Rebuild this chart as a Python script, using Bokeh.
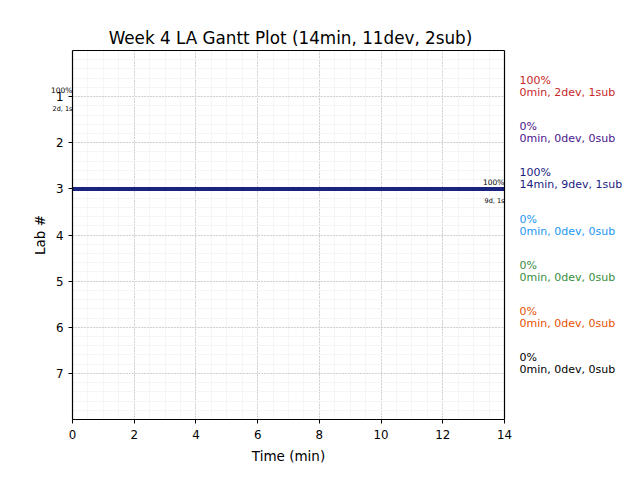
from bokeh.plotting import figure
from bokeh.models import Range1d, FixedTicker, Label, ColumnDataSource, LinearAxis
from bokeh.embed import file_html
from bokeh.resources import INLINE

# ---- data ----
labs = [1, 2, 3, 4, 5, 6, 7]
minutes = [0, 0, 14, 0, 0, 0, 0]
devs = [2, 0, 9, 0, 0, 0, 0]
subs = [1, 0, 1, 0, 0, 0, 0]
pcts = [100, 0, 100, 0, 0, 0, 0]
colors = ["#c62828", "#4a148c", "#1a237e", "#2196f3", "#388e3c", "#e65100", "#000000"]
title_text = "Week 4 LA Gantt Plot (14min, 11dev, 2sub)"
x_label = "Time (min)"
y_label = "Lab #"
x_ticks = [0, 2, 4, 6, 8, 10, 12, 14]
X_MAX = 14
Y_MAX = 8

FONT = "DejaVu Sans"

# layout (pixels): the plot box sits inside a frame that fills the canvas,
# so that the texts around the box are not clipped
W, H = 624, 464
BOX_L, BOX_R, BOX_T, BOX_B = 72, 504, 50, 419
xpx = (BOX_R - BOX_L) / X_MAX
ypx = (BOX_B - BOX_T) / Y_MAX
x_start, x_end = -BOX_L / xpx, X_MAX + (W - BOX_R) / xpx
y_top, y_bottom = -BOX_T / ypx, Y_MAX + (H - BOX_B) / ypx

p = figure(width=W, height=H, output_backend="svg", toolbar_location=None,
           x_range=Range1d(x_start, x_end), y_range=Range1d(y_bottom, y_top),
           min_border=0)

p.outline_line_color = None
p.background_fill_color = "white"
p.border_fill_color = "white"

x_minor = [i * 0.5 for i in range(29)]
y_minor = [round(i * 0.2, 1) for i in range(41)]
p.xaxis.ticker = FixedTicker(ticks=x_ticks, minor_ticks=x_minor)
p.yaxis.ticker = FixedTicker(ticks=labs, minor_ticks=y_minor)
p.xaxis.fixed_location = Y_MAX
p.xaxis.bounds = (0, X_MAX)
p.yaxis.fixed_location = 0
p.yaxis.bounds = (0, Y_MAX)

for ax in (p.xaxis[0], p.yaxis[0]):
    ax.major_label_text_font = FONT
    ax.major_label_text_font_size = "11.8px"
    ax.major_label_text_color = "black"
    ax.axis_label_text_font = FONT
    ax.axis_label_text_font_size = "13.5px"
    ax.axis_label_text_font_style = "normal"
    ax.axis_label_text_color = "black"
    ax.axis_line_color = "black"
    ax.axis_line_width = 1.2
    ax.major_tick_line_color = "black"
    ax.major_tick_out = 4
    ax.major_tick_in = 0
    ax.minor_tick_line_color = None
p.xaxis.major_label_standoff = 6
p.yaxis.major_label_standoff = 5

# top and right border of the plot box
top_ax = LinearAxis(fixed_location=0, bounds=(0, X_MAX), ticker=FixedTicker(ticks=[]),
                    axis_line_color="black", axis_line_width=1.2,
                    major_tick_line_color=None, minor_tick_line_color=None)
right_ax = LinearAxis(fixed_location=X_MAX, bounds=(0, Y_MAX), ticker=FixedTicker(ticks=[]),
                      axis_line_color="black", axis_line_width=1.2,
                      major_tick_line_color=None, minor_tick_line_color=None)
p.add_layout(top_ax, "above")
p.add_layout(right_ax, "right")

for g in (p.xgrid[0], p.ygrid[0]):
    g.grid_line_color = "#b0b0b0"
    g.grid_line_dash = "1 2"
    g.grid_line_width = 1
    g.minor_grid_line_color = "#f5f5f5"
    g.minor_grid_line_width = 1
p.xgrid[0].bounds = (0, X_MAX)
p.ygrid[0].bounds = (0, Y_MAX)
if "cross_bounds" in p.ygrid[0].properties():
    p.ygrid[0].cross_bounds = (0, X_MAX)
    p.xgrid[0].cross_bounds = (0, Y_MAX)

# title and axis labels
p.add_layout(Label(x=X_MAX / 2, y=0, text=title_text, text_align="center",
                   text_baseline="middle", y_offset=13, x_offset=2,
                   text_font=FONT, text_font_size="16.8px", text_color="black"))
p.add_layout(Label(x=X_MAX / 2, y=Y_MAX, text=x_label, text_align="center",
                   text_baseline="middle", y_offset=-36,
                   text_font=FONT, text_font_size="13.5px", text_color="black"))
p.add_layout(Label(x=0, y=Y_MAX / 2, text=y_label, text_align="center",
                   text_baseline="middle", x_offset=-33, angle=1.5707963,
                   text_font=FONT, text_font_size="13.5px", text_color="black"))

# bars
src = ColumnDataSource(dict(lab=labs, start=[0] * len(labs), end=minutes, color=colors))
p.segment(x0="start", y0="lab", x1="end", y1="lab", color="color", line_width=4, source=src)

# in-plot annotations for labs with progress
for lab, m, d, s, pc in zip(labs, minutes, devs, subs, pcts):
    if pc > 0:
        p.add_layout(Label(x=m, y=lab, text=f"{pc}%", text_align="right",
                           text_baseline="bottom", y_offset=2,
                           text_font=FONT, text_font_size="7.5px", text_color="black"))
        p.add_layout(Label(x=m, y=lab, text=f"{d}d, {s}s", text_align="right",
                           text_baseline="top", y_offset=-8,
                           text_font=FONT, text_font_size="6.5px", text_color="black"))

# right-side summary
for lab, m, d, s, pc, c in zip(labs, minutes, devs, subs, pcts, colors):
    p.add_layout(Label(x=X_MAX, y=lab, text=f"{pc}%", text_align="left",
                       text_baseline="middle", x_offset=15, y_offset=16,
                       text_font=FONT, text_font_size="11px", text_color=c))
    p.add_layout(Label(x=X_MAX, y=lab, text=f"{m}min, {d}dev, {s}sub", text_align="left",
                       text_baseline="middle", x_offset=15, y_offset=4,
                       text_font=FONT, text_font_size="11px", text_color=c))

open("out.html", "w").write(file_html(p, INLINE))
